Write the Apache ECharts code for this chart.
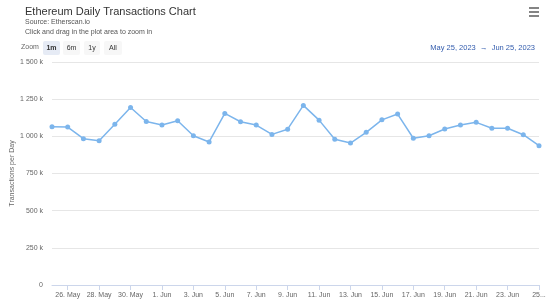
<!DOCTYPE html>
<html><head><meta charset="utf-8">
<script src="https://cdn.jsdelivr.net/npm/echarts@6/dist/echarts.min.js"></script>
<style>html,body{margin:0;padding:0;background:#fff}#c{width:550px;height:307px}</style>
</head><body><div id="c"></div>
<script>
var dates = ['25. May','26. May','27. May','28. May','29. May','30. May','31. May','1. Jun','2. Jun','3. Jun','4. Jun','5. Jun','6. Jun','7. Jun','8. Jun','9. Jun','10. Jun','11. Jun','12. Jun','13. Jun','14. Jun','15. Jun','16. Jun','17. Jun','18. Jun','19. Jun','20. Jun','21. Jun','22. Jun','23. Jun','24. Jun','25. Jun'];
var transactions = [1064000,1062000,984000,971000,1082000,1194000,1100000,1076000,1105000,1004000,962000,1154000,1098000,1076000,1013000,1048000,1208000,1109000,980000,955000,1027000,1111000,1150000,987000,1004000,1049000,1076000,1094000,1054000,1054000,1011000,937000];
var yTicks = [0,250000,500000,750000,1000000,1250000,1500000];
var zoomButtons = ['1m','6m','1y','All'];
var titleText = 'Ethereum Daily Transactions Chart';
var subLines = ['Source: Etherscan.io','Click and drag in the plot area to zoom in'];
var rangeText = 'May 25, 2023  \u2192  Jun 25, 2023';
var FONT = 'Liberation Sans, Arial, sans-serif';

var chart = echarts.init(document.getElementById('c'), null, {renderer:'canvas'});

var btnX = [43, 63, 84, 104];
var btnW = [17, 17, 16, 18];
var graphics = [];
graphics.push({type:'text', left:21, top:44, style:{text:'Zoom', fill:'#666', font:'7px '+FONT}});
zoomButtons.forEach(function(b,i){
  graphics.push({type:'rect', shape:{x:btnX[i], y:41, width:btnW[i], height:14, r:2}, style:{fill: i===0 ? '#e6ebf5' : '#f7f7f7'}});
  graphics.push({type:'text', x:btnX[i]+btnW[i]/2, y:48, style:{text:b, fill:'#333', font:(i===0?'bold ':'')+'7px '+FONT, textAlign:'center', textVerticalAlign:'middle'}});
});
graphics.push({type:'text', right:15, top:44, style:{text:rangeText, fill:'#335cad', font:'7.5px '+FONT}});
[8,12,16].forEach(function(y){
  graphics.push({type:'rect', shape:{x:529, y:y-0.8, width:10, height:1.6}, style:{fill:'#666'}});
});
subLines.forEach(function(t,i){
  graphics.push({type:'text', left:25, top:18.5+i*10, style:{text:t, fill:'#555', font:'7px '+FONT}});
});

chart.setOption({
  animation:false,
  backgroundColor:'#fff',
  title:{text:titleText, left:20, top:1, textStyle:{fontSize:11, fontWeight:'normal', color:'#333', fontFamily:FONT}},
  grid:{left:52, right:11, top:62, bottom:22, containLabel:false, outerBoundsMode:'none'},
  xAxis:{
    type:'category', data:dates, boundaryGap:false,
    axisLine:{lineStyle:{color:'#ccd6eb'}},
    axisTick:{interval:function(i){return i%2===1;}, length:5, lineStyle:{color:'#ccd6eb'}},
    axisLabel:{interval:function(i){return i%2===1;}, color:'#666', fontSize:7, fontFamily:FONT, margin:7,
      formatter:function(v){return v==='25. Jun' ? '25...' : v;} },
    splitLine:{show:false}
  },
  yAxis:{
    type:'value', min:yTicks[0], max:yTicks[yTicks.length-1], interval:250000,
    name:'Transactions per Day', nameLocation:'middle', nameGap:36, nameRotate:90, nameMoveOverlap:false,
    nameTextStyle:{color:'#666', fontSize:7, fontFamily:FONT},
    axisLine:{show:false}, axisTick:{show:false},
    axisLabel:{color:'#666', fontSize:7, fontFamily:FONT, margin:9,
      formatter:function(v){ if(v===0) return '0'; var k=v/1000; return k>=1000 ? Math.floor(k/1000)+' '+String(k%1000).padStart(3,'0')+' k' : k+' k'; }},
    splitLine:{lineStyle:{color:'#e6e6e6'}}
  },
  series:[{
    type:'line', data:transactions, symbol:'circle', symbolSize:5,
    lineStyle:{color:'#7cb5ec', width:1.5}, itemStyle:{color:'#7cb5ec'}
  }],
  graphic:graphics
});
</script></body></html>
